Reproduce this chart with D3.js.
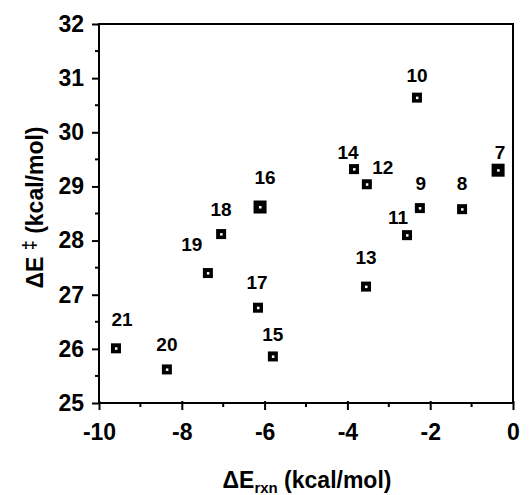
<!DOCTYPE html>
<html><head><meta charset="utf-8">
<script src="https://cdn.jsdelivr.net/npm/d3@7/dist/d3.min.js"></script>
<style>
html,body{margin:0;padding:0;background:#fff;}
text{font-family:"Liberation Sans",Arial,Helvetica,sans-serif;fill:#000;}
</style></head>
<body>
<svg id="chart" width="529" height="495"></svg>
<script>
// ---- data ----
const compounds = ["7","8","9","10","11","12","13","14","15","16","17","18","19","20","21"];
const dErxn   = [-0.36,-1.23,-2.25,-2.32,-2.56,-3.53,-3.55,-3.84,-5.80,-6.11,-6.16,-7.05,-7.37,-8.36,-9.59];
const dEact   = [29.30,28.58,28.60,30.64,28.10,29.04,27.15,29.32,25.86,28.62,26.76,28.12,27.40,25.62,26.01];
const largeMarker = ["7","16"];
const xTicks = [-10,-8,-6,-4,-2,0];
const yTicks = [25,26,27,28,29,30,31,32];
// label placement (pixels relative to marker)
const labelDx = [2,0,1,0,-9,16,0,-6,0,5,-1,0,-16,0,6];
const labelDy = [-18,-26,-25,-22,-18,-17,-29,-17,-22,-30,-25,-25,-29,-25,-29];

const svg = d3.select("#chart");
const x = d3.scaleLinear().domain([-10,0]).range([99,513]);
const y = d3.scaleLinear().domain([25,32]).range([403,24]);

// frame
svg.append("rect").attr("x",x(-10)).attr("y",y(32))
  .attr("width",x(0)-x(-10)).attr("height",y(25)-y(32))
  .attr("fill","none").attr("stroke","#000").attr("stroke-width",2);

// x axis
const xMinor = d3.range(-9,0,2);
const gx = svg.append("g").attr("transform",`translate(0,${y(25)})`);
gx.call(d3.axisBottom(x).tickValues(xTicks).tickFormat(d=>String(d)).tickSize(7).tickPadding(14));
gx.selectAll(".tick line").attr("stroke-width",2).attr("y1",-2);
gx.select(".domain").remove();
gx.selectAll(".tick text").style("font-size","23px").style("font-weight","bold");
gx.selectAll(".minor").data(xMinor).enter().append("line")
  .attr("x1",d=>x(d)).attr("x2",d=>x(d)).attr("y1",0).attr("y2",4)
  .attr("stroke","#000").attr("stroke-width",2);

// y axis
const yMinor = d3.range(25.5,32,1);
const gy = svg.append("g").attr("transform",`translate(${x(-10)},0)`);
gy.call(d3.axisLeft(y).tickValues(yTicks).tickFormat(d=>String(d)).tickSize(7).tickPadding(8));
gy.selectAll(".tick line").attr("stroke-width",2);
gy.select(".domain").remove();
gy.selectAll(".tick text").style("font-size","23px").style("font-weight","bold");
gy.selectAll(".minor").data(yMinor).enter().append("line")
  .attr("x1",-4).attr("x2",0).attr("y1",d=>y(d)).attr("y2",d=>y(d))
  .attr("stroke","#000").attr("stroke-width",2);

// points
const pts = compounds.map((c,i)=>({c, xv:dErxn[i], yv:dEact[i], dx:labelDx[i], dy:labelDy[i], big:largeMarker.includes(c)}));
const g = svg.append("g");
g.selectAll("rect.m").data(pts).enter().append("rect").attr("class","m")
  .attr("x",d=>x(d.xv)-(d.big?6.5:5)).attr("y",d=>y(d.yv)-(d.big?6.5:5))
  .attr("width",d=>d.big?13:10).attr("height",d=>d.big?13:10).attr("fill","#000");
g.selectAll("rect.c").data(pts).enter().append("rect").attr("class","c")
  .attr("x",d=>x(d.xv)-1).attr("y",d=>y(d.yv)-1)
  .attr("width",2.5).attr("height",2.5).attr("fill","#fff");
g.selectAll("text.l").data(pts).enter().append("text").attr("class","l")
  .attr("x",d=>x(d.xv)+d.dx).attr("y",d=>y(d.yv)+d.dy)
  .attr("text-anchor","middle").attr("dy","0.35em")
  .style("font-size","19px").style("font-weight","bold").text(d=>d.c);

// x title
const xt = svg.append("text").attr("x",(x(-10)+x(0))/2+1).attr("y",488)
  .attr("text-anchor","middle").style("font-size","23px").style("font-weight","bold");
xt.append("tspan").text("ΔE");
xt.append("tspan").attr("dy",5).style("font-size","15px").text("rxn");
xt.append("tspan").attr("dy",-5).text(" (kcal/mol)");

// y title
const yt = svg.append("text").attr("transform",`translate(43,${(y(25)+y(32))/2-6}) rotate(-90)`)
  .attr("text-anchor","middle").style("font-size","23px").style("font-weight","bold");
yt.append("tspan").text("ΔE ");
yt.append("tspan").attr("dy",-8).style("font-size","18px").text("‡");
yt.append("tspan").attr("dy",8).text(" (kcal/mol)");
</script>
</body></html>
